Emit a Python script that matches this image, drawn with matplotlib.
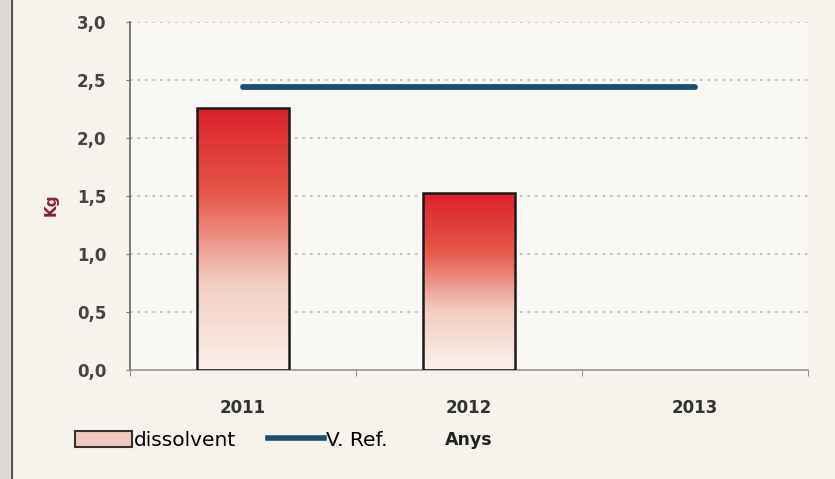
import matplotlib.pyplot as plt
import numpy as np
from matplotlib.patches import Patch, Rectangle
from matplotlib.lines import Line2D
from matplotlib.colors import LinearSegmentedColormap

# data
years = ['2011', '2012', '2013']
dissolvent = [2.26, 1.53, 0.0]
v_ref = [2.44, 2.44, 2.44]
y_ticks = [0.0, 0.5, 1.0, 1.5, 2.0, 2.5, 3.0]
y_tick_labels = ['0,0', '0,5', '1,0', '1,5', '2,0', '2,5', '3,0']

plt.rcParams['font.family'] = ['DejaVu Sans']

fig = plt.figure(figsize=(8.35, 4.79), dpi=100)
fig.patch.set_facecolor('#f6f2ec')
ax = fig.add_axes([130 / 835, 109 / 479, 678 / 835, 348 / 479])
ax.set_facecolor('#faf8f4')

# grey strip + border on the far left of the scan
fig.patches.append(Rectangle((0, 0), 10 / 835, 1, transform=fig.transFigure,
                             facecolor='#dedbd7', edgecolor='none', zorder=0))
fig.add_artist(Line2D([12 / 835, 12 / 835], [0, 1], transform=fig.transFigure,
                      color='#555555', lw=1.6))

x = np.arange(len(years))
bar_w = 0.41
cmap = LinearSegmentedColormap.from_list('redfade', ['#faf1ea', '#f2cdc2', '#e6584a', '#dc1f2a'])
grad = np.linspace(0, 1, 256).reshape(-1, 1)

bars = ax.bar(x, dissolvent, width=bar_w, facecolor='none', edgecolor='#1a1a1a',
              linewidth=1.8, zorder=3)
for b, h in zip(bars, dissolvent):
    if h <= 0:
        b.set_visible(False)
        continue
    x0 = b.get_x()
    im = ax.imshow(grad, cmap=cmap, origin='lower', aspect='auto',
                   extent=[x0, x0 + bar_w, 0, h], zorder=2)
    im.set_clip_path(b)

ax.plot(x, v_ref, color='#1e4f6e', lw=4.2, solid_capstyle='round', zorder=4)

ax.set_xlim(-0.5, 2.5)
ax.set_ylim(0, 3.0)
ax.set_yticks(y_ticks)
ax.set_yticklabels(y_tick_labels)
ax.set_xticks(x)
ax.set_xticklabels(years)
ax.set_xticks([-0.5, 0.5, 1.5, 2.5], minor=True)
ax.tick_params(axis='x', which='major', length=0, pad=21, labelsize=12, labelcolor='#333333')
ax.tick_params(axis='x', which='minor', length=4, color='#777777')
ax.tick_params(axis='y', length=3, pad=14, labelsize=12, labelcolor='#444444', color='#777777')
for lbl in ax.get_xticklabels() + ax.get_yticklabels():
    lbl.set_fontweight('bold')

ax.grid(axis='y', linestyle=(0, (1.5, 3)), color='#b8b8b8', lw=1.2, zorder=1)
ax.set_axisbelow(True)
for s in ['top', 'right']:
    ax.spines[s].set_visible(False)
ax.spines['left'].set_color('#666666')
ax.spines['bottom'].set_color('#999999')
ax.spines['left'].set_linewidth(1.2)
ax.spines['bottom'].set_linewidth(1.2)

ax.set_xlabel('Anys', fontsize=12.5, fontweight='bold', color='#222222')
ax.xaxis.set_label_coords(0.5, -0.175)
ax.set_ylabel('Kg', fontsize=11, fontweight='bold', color='#8b1f2e')
ax.yaxis.set_label_coords(-0.105, 0.474)

handles = [Patch(facecolor='#f1c9c0', edgecolor='#333333', linewidth=1.5),
           Line2D([0], [0], color='#1e4f6e', lw=4)]
fig.legend(handles, ['dissolvent', 'V. Ref.'], loc='center left',
           bbox_to_anchor=(0.09, 0.081), ncol=2, frameon=False,
           borderaxespad=0, borderpad=0,
           handlelength=2.8, handleheight=0.9, handletextpad=0.1, columnspacing=1.6,
           prop={'size': 14.5})

fig.savefig('out.png', dpi=100, facecolor=fig.get_facecolor())
